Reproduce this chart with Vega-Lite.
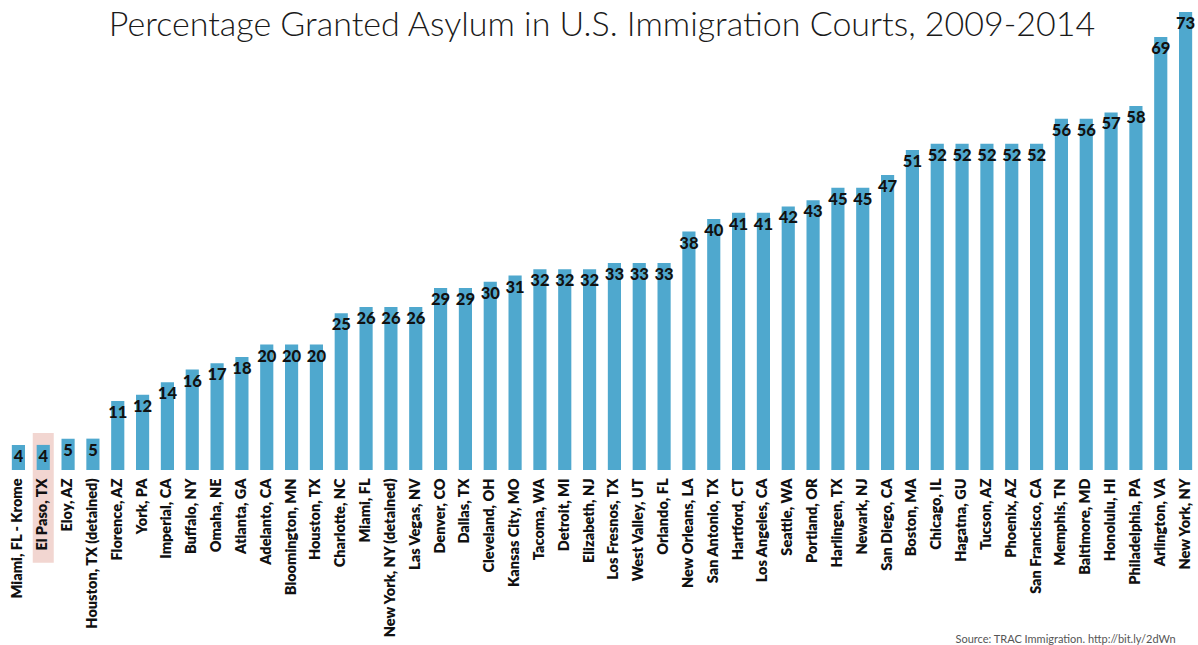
{
  "$schema": "https://vega.github.io/schema/vega-lite/v6.json",
  "autosize": "none",
  "padding": {"left": 6, "top": 12, "right": 0, "bottom": 175},
  "width": 1192,
  "height": 458,
  "background": "white",
  "title": {
    "text": "Percentage Granted Asylum in U.S. Immigration Courts, 2009-2014",
    "font": "Lato",
    "fontWeight": 300,
    "fontSize": 34,
    "color": "#1a1a1a",
    "anchor": "middle",
    "baseline": "alphabetic",
    "offset": -58
  },
  "config": {"view": {"stroke": null}},
  "data": {
    "values": [
      {"court": "Miami, FL - Krome", "pct": 4},
      {"court": "El Paso, TX", "pct": 4},
      {"court": "Eloy, AZ", "pct": 5},
      {"court": "Houston, TX (detained)", "pct": 5},
      {"court": "Florence, AZ", "pct": 11},
      {"court": "York, PA", "pct": 12},
      {"court": "Imperial, CA", "pct": 14},
      {"court": "Buffalo, NY", "pct": 16},
      {"court": "Omaha, NE", "pct": 17},
      {"court": "Atlanta, GA", "pct": 18},
      {"court": "Adelanto, CA", "pct": 20},
      {"court": "Bloomington, MN", "pct": 20},
      {"court": "Houston, TX", "pct": 20},
      {"court": "Charlotte, NC", "pct": 25},
      {"court": "Miami, FL", "pct": 26},
      {"court": "New York, NY (detained)", "pct": 26},
      {"court": "Las Vegas, NV", "pct": 26},
      {"court": "Denver, CO", "pct": 29},
      {"court": "Dallas, TX", "pct": 29},
      {"court": "Cleveland, OH", "pct": 30},
      {"court": "Kansas City, MO", "pct": 31},
      {"court": "Tacoma, WA", "pct": 32},
      {"court": "Detroit, MI", "pct": 32},
      {"court": "Elizabeth, NJ", "pct": 32},
      {"court": "Los Fresnos, TX", "pct": 33},
      {"court": "West Valley, UT", "pct": 33},
      {"court": "Orlando, FL", "pct": 33},
      {"court": "New Orleans, LA", "pct": 38},
      {"court": "San Antonio, TX", "pct": 40},
      {"court": "Hartford, CT", "pct": 41},
      {"court": "Los Angeles, CA", "pct": 41},
      {"court": "Seattle, WA", "pct": 42},
      {"court": "Portland, OR", "pct": 43},
      {"court": "Harlingen, TX", "pct": 45},
      {"court": "Newark, NJ", "pct": 45},
      {"court": "San Diego, CA", "pct": 47},
      {"court": "Boston, MA", "pct": 51},
      {"court": "Chicago, IL", "pct": 52},
      {"court": "Hagatna, GU", "pct": 52},
      {"court": "Tucson, AZ", "pct": 52},
      {"court": "Phoenix, AZ", "pct": 52},
      {"court": "San Francisco, CA", "pct": 52},
      {"court": "Memphis, TN", "pct": 56},
      {"court": "Baltimore, MD", "pct": 56},
      {"court": "Honolulu, HI", "pct": 57},
      {"court": "Philadelphia, PA", "pct": 58},
      {"court": "Arlington, VA", "pct": 69},
      {"court": "New York, NY", "pct": 73}
    ]
  },
  "encoding": {
    "x": {
      "field": "court",
      "type": "nominal",
      "sort": null,
      "scale": {"paddingInner": 0.47, "paddingOuter": 0.235},
      "axis": {
        "zindex": 1,
        "labelAngle": -90,
        "labelAlign": "right",
        "labelBaseline": "middle",
        "labelFont": "Lato",
        "labelFontWeight": 800,
        "labelFontSize": 14.5,
        "labelColor": "#111111",
        "labelPadding": 8,
        "labelOverlap": false,
        "labelLimit": 0,
        "ticks": false,
        "domain": false,
        "title": "Source: TRAC Immigration. http://bit.ly/2dWn",
        "titleFont": "Lato",
        "titleFontWeight": "normal",
        "titleFontSize": 11,
        "titleColor": "#555555",
        "titleAlign": "left",
        "titleBaseline": "alphabetic",
        "titleAnchor": "start",
        "titleX": 949,
        "titleY": 172
      }
    },
    "y": {
      "field": "pct",
      "type": "quantitative",
      "scale": {"domain": [0, 73], "nice": false},
      "axis": null
    }
  },
  "layer": [
    {
      "mark": {"type": "bar", "color": "#ecc4be", "width": 21, "clip": false},
      "encoding": {
        "y": {"datum": 5.9, "type": "quantitative"},
        "y2": {"datum": -14.8},
        "opacity": {
          "condition": {"test": "datum.court === 'El Paso, TX'", "value": 0.7},
          "value": 0
        }
      }
    },
    {
      "mark": {"type": "bar", "color": "#4FA8CE"}
    },
    {
      "mark": {
        "type": "text",
        "font": "Lato",
        "fontWeight": 900,
        "fontSize": 16.5,
        "color": "#111111",
        "baseline": "middle",
        "dy": 12
      },
      "encoding": {"text": {"field": "pct", "type": "quantitative"}}
    }
  ]
}
